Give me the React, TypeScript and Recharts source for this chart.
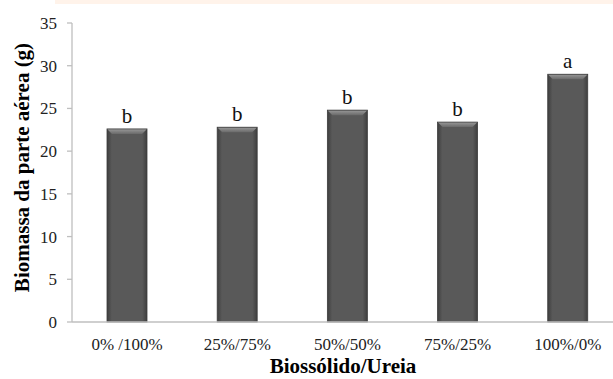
import React from 'react';
import { BarChart, Bar, XAxis, YAxis, LabelList } from 'recharts';

const categories = ['0% /100%', '25%/75%', '50%/50%', '75%/25%', '100%/0%'];
const biomass = [22.6, 22.8, 24.8, 23.4, 29.0];
const letters = ['b', 'b', 'b', 'b', 'a'];
const yTicks = [0, 5, 10, 15, 20, 25, 30, 35];
const xTicks = [0, 1, 2, 3, 4];

const data = categories.map((c, i) => ({ idx: i, cat: c, value: biomass[i], letter: letters[i] }));

const FONT = '"Liberation Serif", "Times New Roman", serif';

const BevelBar = (props: any) => {
  const { x, y, width, height } = props;
  if (!height || height <= 0) return null;
  const b = 5;
  return (
    <g>
      <rect x={x} y={y} width={width} height={height} fill="url(#barGrad)" />
      <polygon
        points={`${x},${y} ${x + width},${y} ${x + width - b},${y + b} ${x + b},${y + b}`}
        fill="url(#topGrad)"
      />
      <rect x={x} y={y} width={width} height={height} fill="none" stroke="#3c3c3c" strokeWidth={0.8} />
    </g>
  );
};

const YTitle = (props: any) => {
  const { viewBox } = props;
  const cy = viewBox.y + viewBox.height / 2 - 5;
  return (
    <text
      x={22}
      y={cy}
      transform={`rotate(-90, 22, ${cy})`}
      textAnchor="middle"
      dominantBaseline="central"
      fontFamily={FONT}
      fontWeight="bold"
      fontSize={21}
      fill="#000"
    >
      Biomassa da parte aérea (g)
    </text>
  );
};

const XTitle = (props: any) => {
  const { viewBox } = props;
  const cx = 343;
  return (
    <text
      x={cx}
      y={viewBox.y + 51}
      textAnchor="middle"
      fontFamily={FONT}
      fontWeight="bold"
      fontSize={21}
      fill="#000"
    >
      Biossólido/Ureia
    </text>
  );
};

export default function App() {
  return (
    <div style={{ position: 'absolute', left: 0, top: 0, width: 613, height: 379, background: '#fff' }}>
      <div style={{ position: 'absolute', left: 55, top: 0, width: 558, height: 4, background: '#fff3ea' }} />
      <BarChart
        width={613}
        height={379}
        data={data}
        margin={{ top: 23, right: 0, bottom: 0, left: 0 }}
      >
        <defs>
          <linearGradient id="barGrad" x1="0" y1="0" x2="1" y2="0">
            <stop offset="0%" stopColor="#3e3e3e" />
            <stop offset="12%" stopColor="#595959" />
            <stop offset="88%" stopColor="#595959" />
            <stop offset="100%" stopColor="#3e3e3e" />
          </linearGradient>
          <linearGradient id="topGrad" x1="0" y1="0" x2="0" y2="1">
            <stop offset="0%" stopColor="#9a9a9a" />
            <stop offset="100%" stopColor="#6a6a6a" />
          </linearGradient>
        </defs>
        <XAxis
          type="number"
          dataKey="idx"
          domain={[-0.5, 4.41]}
          ticks={xTicks}
          allowDataOverflow
          tickFormatter={(v: number) => categories[v] ?? ''}
          tickLine={false}
          tickSize={6}
          tickMargin={10}
          axisLine={{ stroke: '#bfbfbf', strokeWidth: 1.3 }}
          tick={{ fontFamily: FONT, fontSize: 17, fill: '#222' }}
          height={57}
          interval={0}
          label={<XTitle />}
        />
        <YAxis
          type="number"
          domain={[0, 35]}
          ticks={yTicks}
          width={72}
          tickSize={5}
          tickMargin={10}
          axisLine={{ stroke: '#bfbfbf', strokeWidth: 1.3 }}
          tickLine={{ stroke: '#bfbfbf', strokeWidth: 1.3 }}
          tick={{ fontFamily: FONT, fontSize: 17, fill: '#222' }}
          label={<YTitle />}
        />
        <Bar dataKey="value" barSize={40} isAnimationActive={false} shape={<BevelBar />}>
          <LabelList
            dataKey="letter"
            position="top"
            offset={6}
            style={{ fontFamily: FONT, fontSize: 21, fill: '#111' }}
          />
        </Bar>
      </BarChart>
    </div>
  );
}
